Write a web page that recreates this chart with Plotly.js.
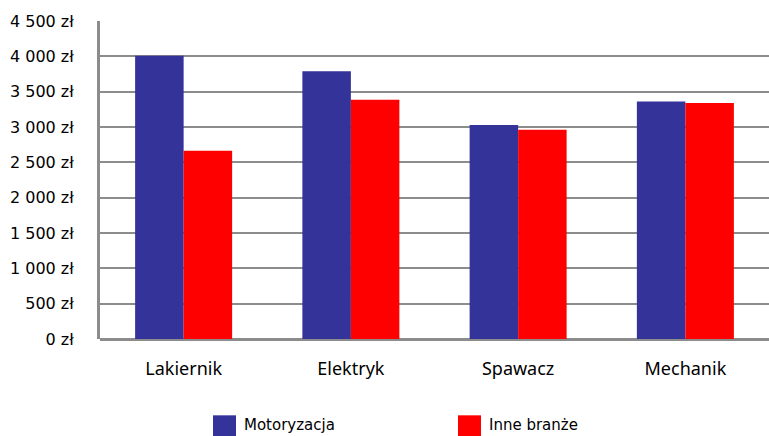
<!DOCTYPE html>
<html>
<head>
<meta charset="utf-8">
<script src="https://cdn.plot.ly/plotly-3.0.1.min.js"></script>
<style>html,body{margin:0;padding:0;background:#fff;}#chart{width:769px;height:436px;}</style>
</head>
<body>
<div id="chart"></div>
<script>
var categories = ["Lakiernik", "Elektryk", "Spawacz", "Mechanik"];
var seriesNames = ["Motoryzacja", "Inne branże"];
var motoryzacja = [4010, 3790, 3030, 3360];
var inneBranze = [2665, 3385, 2960, 3340];
var yTickVals = [0, 500, 1000, 1500, 2000, 2500, 3000, 3500, 4000, 4500];
var yTickText = ["0 zł", "500 zł", "1 000 zł", "1 500 zł", "2 000 zł", "2 500 zł", "3 000 zł", "3 500 zł", "4 000 zł", "4 500 zł"];
var colors = ["#333399", "#FF0000"];

var traces = [
  {type: "bar", name: seriesNames[0], x: categories, y: motoryzacja, marker: {color: colors[0]}, showlegend: false},
  {type: "bar", name: seriesNames[1], x: categories, y: inneBranze, marker: {color: colors[1]}, showlegend: false}
];

// legend drawn as shapes + text to match large square swatches
var plotLeft = 100, plotW = 669;
var legendPx = [213, 458];
var shapes = [], annotations = [];
for (var i = 0; i < seriesNames.length; i++) {
  var x0 = (legendPx[i] - plotLeft) / plotW;
  var x1 = (legendPx[i] + 23 - plotLeft) / plotW;
  shapes.push({type: "rect", xref: "paper", yref: "paper", x0: x0, x1: x1, y0: -0.240, y1: -0.310, fillcolor: colors[i], line: {width: 0}});
  annotations.push({xref: "paper", yref: "paper", x: (legendPx[i] + 29 - plotLeft) / plotW, y: -0.272, xanchor: "left", yanchor: "middle", text: seriesNames[i], showarrow: false, font: {family: "DejaVu Sans", size: 15, color: "#000"}});
}

var layout = {
  width: 769, height: 436,
  margin: {l: plotLeft, r: 0, t: 21, b: 97, pad: 0},
  paper_bgcolor: "#fff", plot_bgcolor: "#fff",
  barmode: "group", bargap: 0.42, bargroupgap: 0,
  showlegend: false,
  xaxis: {
    type: "category", showgrid: false, ticks: "", zeroline: false,
    showline: false,
    tickfont: {family: "Noto Sans", size: 18, color: "#000"},
    ticklabelstandoff: 17
  },
  yaxis: {
    range: [0, 4500], tickvals: yTickVals, ticktext: yTickText,
    showgrid: true, gridcolor: "#8c8c8c", gridwidth: 2,
    showline: true, linecolor: "#8c8c8c", linewidth: 3,
    zeroline: true, zerolinecolor: "#8c8c8c", zerolinewidth: 3,
    ticks: "", ticklabelstandoff: 20,
    tickfont: {family: "DejaVu Sans", size: 16, color: "#000"}
  },
  shapes: shapes,
  annotations: annotations
};

Plotly.newPlot("chart", traces, layout, {displayModeBar: false, staticPlot: true});
</script>
</body>
</html>
